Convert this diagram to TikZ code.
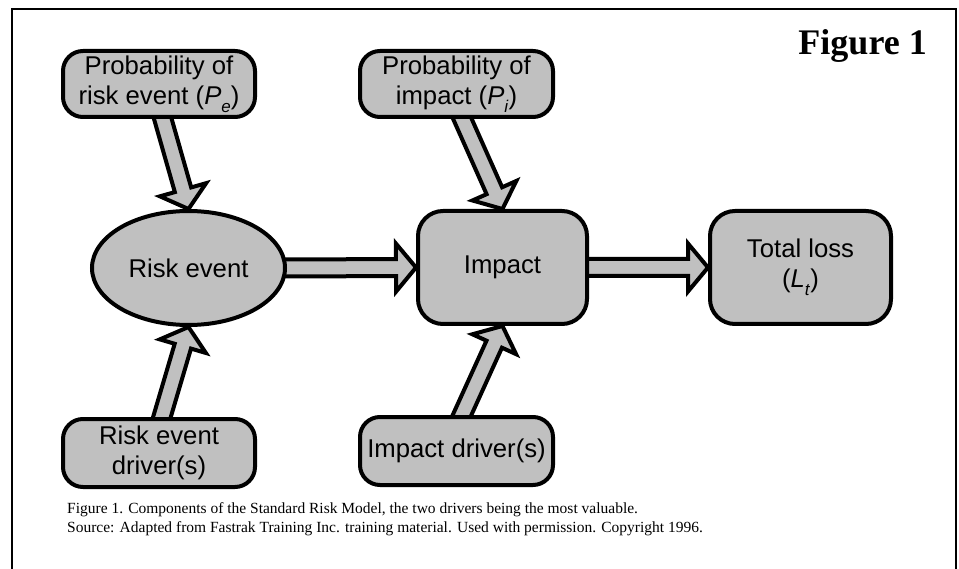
\documentclass[tikz,border=0pt]{standalone}
\usepackage{fontspec}
\setmainfont{Liberation Serif}
\setsansfont{Liberation Sans}
\usetikzlibrary{shapes.geometric,calc}
\pgfdeclarelayer{bg}
\pgfsetlayers{bg,main}
\definecolor{boxgray}{RGB}{192,192,192}
\tikzset{
  box/.style={draw, line width=4pt, fill=boxgray, rounded corners=20pt, align=center,
    font=\sffamily\fontsize{25.7}{30}\selectfont, inner sep=0pt},
  oval/.style={ellipse, draw, line width=4pt, fill=boxgray, align=center,
    font=\sffamily\fontsize{25.7}{30}\selectfont, inner sep=0pt},
  blockarrow/.style={draw, line width=4pt, fill=boxgray, line join=miter, miter limit=10},
  frameline/.style={draw, line width=2.5pt},
  captext/.style={font=\rmfamily\fontsize{15.5}{19}\selectfont, anchor=base west, inner sep=0pt},
  figtitle/.style={font=\rmfamily\bfseries\fontsize{36}{40}\selectfont, anchor=base east, inner sep=0pt}
}
\newcommand\sub[1]{\raisebox{-0.3em}{\fontsize{17}{17}\selectfont\textit{#1}}}
\newcommand\fatarrow[2]{%
  \coordinate (hb) at ($(#2)!20pt!(#1)$);
  \draw[blockarrow] ($(#1)!8.5pt!90:(#2)$) -- ($(hb)!8.5pt!90:(#2)$) -- ($(hb)!24pt!90:(#2)$)
    -- (#2) -- ($(hb)!24pt!-90:(#2)$) -- ($(hb)!8.5pt!-90:(#2)$) -- ($(#1)!8.5pt!-90:(#2)$) -- cycle;
}
\begin{document}
\begin{tikzpicture}[x=1pt,y=-1pt]
\useasboundingbox (0,0) rectangle (959,569);
\draw[frameline] (12,580) -- (12,9) -- (956,9) -- (956,580);

\node[figtitle] (fig) at (927,55) {Figure 1};

\node[box, minimum width=192pt, minimum height=66pt] (pe) at (159,84)
  {Probability of\\risk event (\textit{P}\sub{e})};
\node[box, minimum width=193pt, minimum height=66pt] (pi) at (456.5,84)
  {Probability of\\impact (\textit{P}\sub{i})};
\node[oval, minimum width=193pt, minimum height=114pt] (re) at (188.5,268) {Risk event};
\node[box, rounded corners=25pt, minimum width=169pt, minimum height=113pt] (imp) at (502.5,267.5) {Impact};
\node[box, rounded corners=25pt, minimum width=181pt, minimum height=113pt] (tl) at (800.5,267.5)
  {Total loss\\(\textit{L}\sub{t})};
\node[box, minimum width=192pt, minimum height=68pt] (red) at (159,453) {Risk event\\driver(s)};
\node[box, minimum width=193pt, minimum height=68pt] (imd) at (456.5,451) {Impact driver(s)};

\coordinate (s1) at ($(pe.south)+(1,-10)$);
\coordinate (s2) at ($(pi.south)+(1.5,-10)$);
\coordinate (s3) at ($(red.north)+(0,10)$);
\coordinate (s4) at ($(imd.north)+(1,10)$);
\coordinate (s5) at ($(re.east)+(-10,0)$);
\coordinate (s6) at ($(imp.east)+(-10,0)$);

\begin{pgfonlayer}{bg}
\fill[white] (0,0) rectangle (959,569);
\fatarrow{s1}{re.north}
\fatarrow{s2}{imp.north}
\fatarrow{s3}{re.south}
\fatarrow{s4}{imp.south}
\fatarrow{s5}{imp.west}
\fatarrow{s6}{tl.west}
\end{pgfonlayer}

\node[captext] (cap1) at (67,513) {Figure 1. Components of the Standard Risk Model, the two drivers being the most valuable.};
\node[captext] (cap2) at (67,532) {Source: Adapted from Fastrak Training Inc. training material. Used with permission. Copyright 1996.};
\end{tikzpicture}
\end{document}
